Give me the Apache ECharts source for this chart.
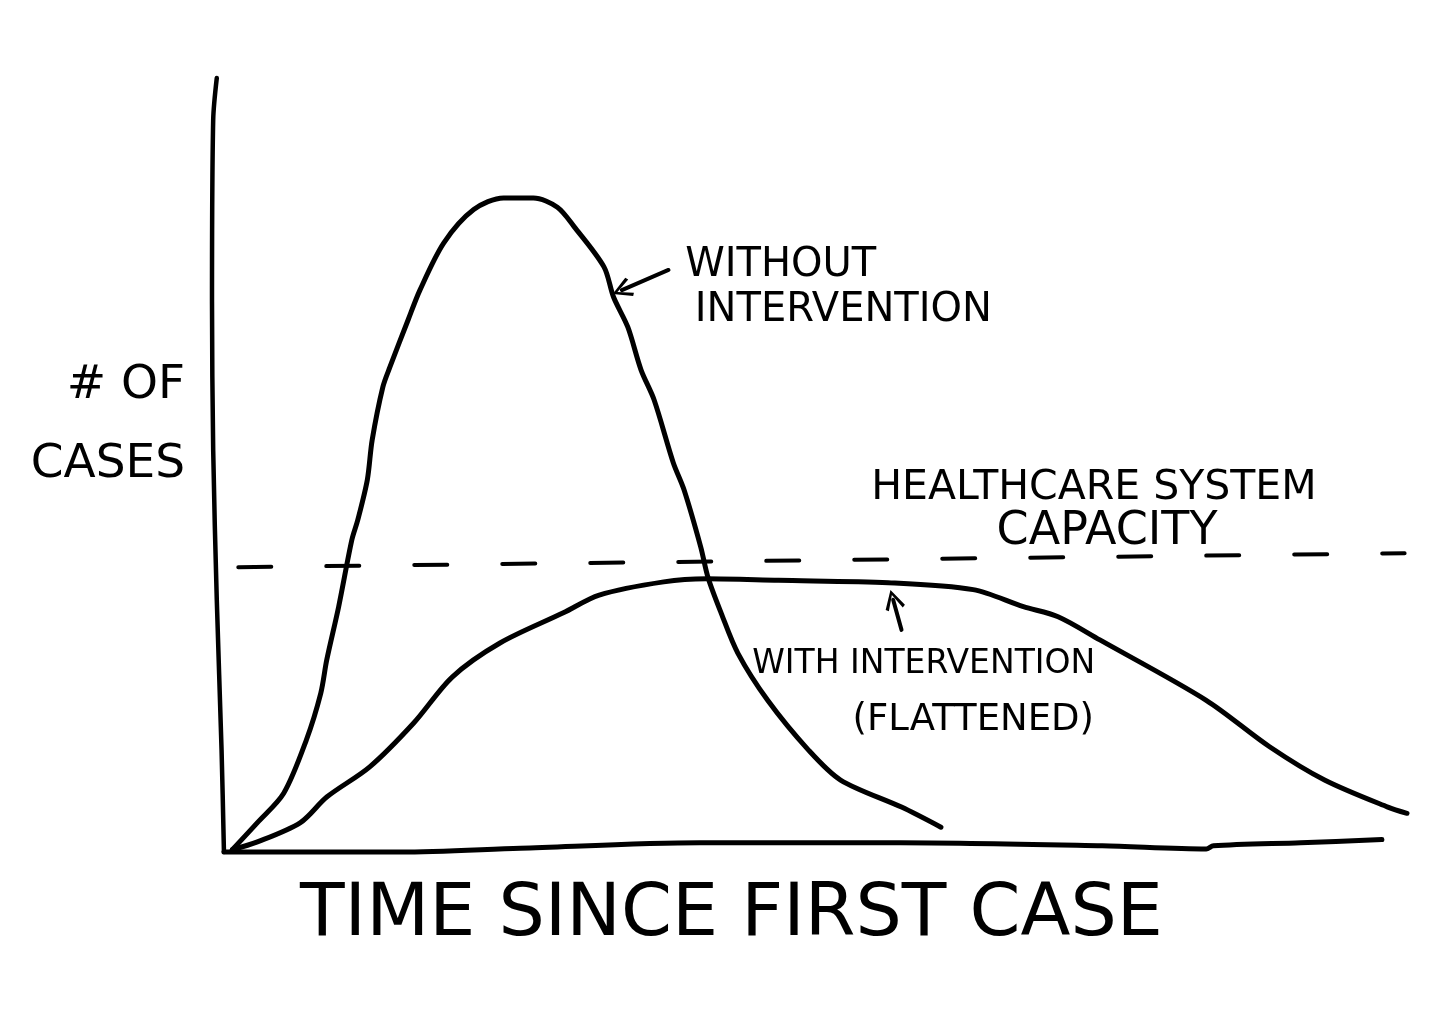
<!DOCTYPE html>
<html>
<head>
<meta charset="utf-8">
<script src="https://cdn.jsdelivr.net/npm/echarts@6/dist/echarts.min.js"></script>
<style>
  html, body { margin: 0; padding: 0; background: #fff; }
  #chart { width: 1443px; height: 1029px; }
</style>
</head>
<body>
<div id="chart"></div>
<script>
// ---- Data (time since first case, # of cases; both 0-100 units) ----
const timeWithout  = [1.7, 3.8, 6.0, 7.9, 9.1, 9.6, 10.6, 11.7, 12.2, 13.0, 13.4, 14.3, 14.9, 16.4, 17.4, 19.4, 21.9, 24.4, 26.9, 28.9, 30.3, 32.8, 33.6, 34.8, 35.9, 37.0, 38.6, 39.5, 40.9, 41.5, 42.6, 44.0, 46.5, 49.9, 52.6, 57.7, 61.0];
const casesWithout = [0.3, 3.8, 7.6, 14.5, 20.5, 24.8, 31.7, 40.3, 42.9, 48.1, 53.2, 60.1, 62.7, 68.7, 72.6, 78.7, 83.0, 84.5, 84.5, 83.3, 80.8, 75.6, 71.7, 67.8, 62.3, 58.4, 50.3, 46.8, 39.4, 35.5, 30.9, 25.7, 19.6, 13.2, 9.3, 5.8, 3.2];

const timeWith  = [1.7, 3.8, 7.4, 9.6, 13.2, 16.9, 20.1, 24.1, 29.4, 32.4, 37.8, 41.4, 47.4, 56.6, 63.7, 67.9, 70.8, 74.3, 83.2, 88.5, 93.1, 98.4, 100];
const casesWith = [0.3, 1.3, 3.8, 7.1, 11.0, 16.7, 22.6, 27.0, 30.9, 33.2, 34.9, 35.3, 35.1, 34.8, 33.9, 31.7, 30.4, 27.4, 19.6, 13.6, 9.3, 5.8, 5.0];

const capacityTime  = [2.2, 99.8];
const capacityCases = [36.8, 38.6];

// hand-drawn axis strokes
const yStrokeTime  = [0.4, 0.1, 0.0, 0.1, 0.4, 0.8, 1.0];
const yStrokeCases = [100, 94.6, 71.1, 51.9, 32.6, 13.2, 0];
const xStrokeTime  = [1.0, 15.8, 25.8, 40.8, 57.6, 74.5, 83.2, 83.8, 91.1, 97.9];
const xStrokeCases = [0, 0, 0.5, 1.2, 1.2, 0.8, 0.4, 0.8, 1.2, 1.6];

const xAxisTitle = 'TIME SINCE FIRST CASE';
const yAxisTitleLines = ['# OF', 'CASES'];
const labelWithout = ['WITHOUT', 'INTERVENTION'];
const labelWith = ['WITH INTERVENTION', '(FLATTENED)'];
const labelCapacity = ['HEALTHCARE SYSTEM', 'CAPACITY'];

const zip = (xs, ys) => xs.map((x, i) => [x, ys[i]]);

const INK = '#000000';
const FONT = '"DejaVu Sans", sans-serif';
const chevron = 'path://M5,0 L10,9 L8.6,10 L5,2.6 L1.4,10 L0,9 Z';

const strokeStyle = (w) => ({ color: INK, width: w, cap: 'round', join: 'round' });

const textPoint = (x, y, text, size, align) => ({
  value: [x, y],
  label: { show: true, position: 'inside', formatter: text, fontSize: size, align: align, verticalAlign: 'middle', color: INK, fontFamily: FONT, opacity: 1 }
});

const chart = echarts.init(document.getElementById('chart'), null, { renderer: 'canvas' });
chart.setOption({
  backgroundColor: '#ffffff',
  animation: false,
  grid: { left: 212, right: 36, top: 78, bottom: 177 },
  xAxis: {
    type: 'value', min: 0, max: 100,
    axisLine: { show: false }, axisTick: { show: false }, axisLabel: { show: false }, splitLine: { show: false },
    name: xAxisTitle, nameLocation: 'middle', nameGap: 28,
    nameTextStyle: { fontSize: 73, color: INK, fontFamily: FONT, padding: [0, 156, 0, 0] }
  },
  yAxis: {
    type: 'value', min: 0, max: 100,
    axisLine: { show: false }, axisTick: { show: false }, axisLabel: { show: false }, splitLine: { show: false },
    // trailing empty line lifts the two-line title above the axis middle, as in the sketch
    name: yAxisTitleLines.join('\n') + '\n ', nameLocation: 'middle', nameRotate: 0, nameGap: 27,
    nameTextStyle: { fontSize: 47, lineHeight: 79, color: INK, fontFamily: FONT, align: 'right' }
  },
  series: [
    { name: 'y axis stroke', type: 'line', data: zip(yStrokeTime, yStrokeCases), smooth: 0.3, showSymbol: false, lineStyle: strokeStyle(4.5), clip: false, silent: true },
    { name: 'x axis stroke', type: 'line', data: zip(xStrokeTime, xStrokeCases), smooth: 0.3, showSymbol: false, lineStyle: strokeStyle(5), clip: false, silent: true },
    { name: 'Healthcare system capacity', type: 'line', data: zip(capacityTime, capacityCases), showSymbol: false,
      lineStyle: { color: INK, width: 4, type: [33, 55], cap: 'round' }, clip: false },
    { name: 'Without intervention', type: 'line', data: zip(timeWithout, casesWithout), smooth: 0.3, showSymbol: false, lineStyle: strokeStyle(5), clip: false },
    { name: 'With intervention', type: 'line', data: zip(timeWith, casesWith), smooth: 0.3, showSymbol: false, lineStyle: strokeStyle(5), clip: false },
    { name: 'arrows', type: 'lines', coordinateSystem: 'cartesian2d', symbol: ['none', chevron], symbolSize: [22, 20],
      lineStyle: { color: INK, width: 4, cap: 'round', opacity: 1 },
      data: [
        { coords: [[38.2, 75.2], [34.3, 72.6]] },
        { coords: [[57.7, 28.7], [57.0, 32.6]] }
      ]
    },
    { name: 'annotations', type: 'scatter', symbolSize: 0, silent: true, clip: false,
      itemStyle: { opacity: 1 }, emphasis: { disabled: true },
      data: [
        textPoint(39.6, 75.8, labelWithout[0], 40, 'left'),
        textPoint(40.4, 70.0, labelWithout[1], 40, 'left'),
        textPoint(73.8, 47.0, labelCapacity[0], 41, 'center'),
        textPoint(74.9, 41.3, labelCapacity[1], 46, 'center'),
        textPoint(45.2, 24.2, labelWith[0], 33, 'left'),
        textPoint(53.6, 17.0, labelWith[1], 37, 'left')
      ]
    }
  ]
});
</script>
</body>
</html>
